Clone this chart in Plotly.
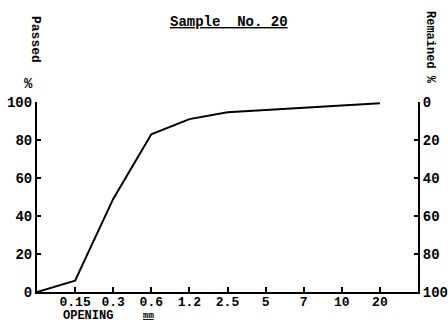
import plotly.graph_objects as go

openings = ["0.15", "0.3", "0.6", "1.2", "2.5", "5", "7", "10", "20"]
passed = [6, 49, 83, 91, 94.6, 95.8, 97, 98, 99.4]
origin_passed = 0
y_ticks = [0, 20, 40, 60, 80, 100]

positions = list(range(1, len(openings) + 1))
x_vals = [0] + positions
y_vals = [origin_passed] + passed
remained = [100 - v for v in y_vals]

FONT = "Liberation Mono"

fig = go.Figure()
fig.add_trace(go.Scatter(x=x_vals, y=y_vals, mode="lines",
                         line=dict(color="black", width=2), showlegend=False,
                         hoverinfo="skip"))
fig.add_trace(go.Scatter(x=x_vals, y=remained, mode="lines", yaxis="y2",
                         line=dict(color="rgba(0,0,0,0)", width=0), showlegend=False,
                         hoverinfo="skip"))

axis_common = dict(showline=True, linecolor="black", linewidth=2, showgrid=False,
                   zeroline=False, automargin=False, tickcolor="black")

fig.update_layout(
    width=448, height=323,
    margin=dict(l=37, r=30, t=102, b=31),
    paper_bgcolor="white", plot_bgcolor="white",
    font=dict(family=FONT, color="black", size=14),
    xaxis=dict(range=[0, 10], tickmode="array", tickvals=positions,
               ticktext=["<b>%s</b>" % t for t in openings],
               ticks="inside", ticklen=5, tickwidth=1.5, ticklabelstandoff=-4,
               tickfont=dict(family=FONT, size=13, color="black"), **axis_common),
    yaxis=dict(range=[0, 100], tickmode="array", tickvals=y_ticks,
               ticktext=["<b>%d</b>" % t for t in y_ticks],
               ticks="inside", ticklen=4, tickwidth=1.5,
               tickfont=dict(family=FONT, size=14, color="black"), **axis_common),
    yaxis2=dict(range=[100, 0], tickmode="array", tickvals=y_ticks,
                ticktext=["<b>%d</b>" % t for t in y_ticks],
                overlaying="y", side="right", anchor="x",
                ticks="inside", ticklen=4, tickwidth=1.5,
                tickfont=dict(family=FONT, size=14, color="black"), **axis_common),
)

ann = [
    dict(text="<b><u>Sample  No. 20</u></b>", x=229, y=22, size=14, angle=0),
    dict(text="<b>Passed</b>", x=36, y=39, size=13, angle=90),
    dict(text="<b>%</b>", x=28, y=84, size=14, angle=0),
    dict(text="<b>Remained %</b>", x=430, y=47, size=12, angle=90),
    dict(text="<b>OPENING</b>", x=88, y=316, size=12, angle=0),
    dict(text="<b><u>mm</u></b>", x=148, y=316, size=9, angle=0),
]
for a in ann:
    fig.add_annotation(text=a["text"], xref="paper", yref="paper",
                       x=(a["x"] - 37) / 381, y=(292 - a["y"]) / 190,
                       showarrow=False, textangle=a["angle"],
                       font=dict(family=FONT, size=a["size"], color="black"),
                       xanchor="center", yanchor="middle", borderpad=0)

fig.write_html("out.html")
